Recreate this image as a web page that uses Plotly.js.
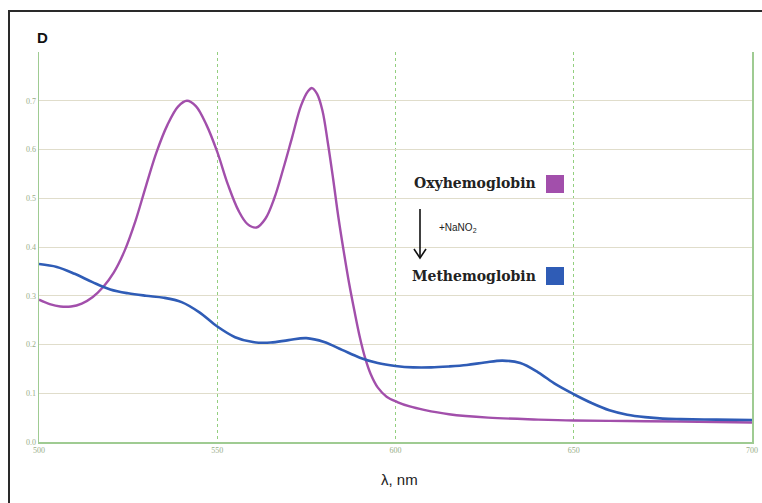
<!DOCTYPE html>
<html>
<head>
<meta charset="utf-8">
<script src="https://cdn.plot.ly/plotly-3.0.1.min.js"></script>
<style>
html,body{margin:0;padding:0;background:#fff;}
#chart{width:762px;height:503px;}
</style>
</head>
<body>
<div id="chart"></div>
<script>
// Oxyhemoglobin spectrum (wavelength nm, absorbance)
const wlOxy = [500,503,506,509,512,515,518,521,524,527,530,533,536,539,541.5,544,547,550,553,556,558.5,561,563.5,566,568.5,571,573.5,575.5,576.6,578,579.5,581,582.5,584,585.5,587,588.5,590,591.5,593,595,597.5,600.5,604,608,615,626,640,650,665,680,700];
const absOxy = [0.292,0.283,0.278,0.278,0.284,0.297,0.318,0.348,0.392,0.452,0.525,0.595,0.650,0.688,0.700,0.689,0.650,0.595,0.528,0.474,0.447,0.440,0.458,0.500,0.560,0.625,0.690,0.720,0.726,0.714,0.680,0.615,0.540,0.460,0.390,0.325,0.268,0.215,0.172,0.140,0.112,0.093,0.082,0.073,0.066,0.057,0.050,0.046,0.044,0.043,0.042,0.040];
// Methemoglobin spectrum
const wlMet = [500,505,510,515,520,525,530,535,540,545,550,555,560,565,570,575,580,585,590,595,600,605,610,615,620,625,630,635,640,645,650,655,660,665,670,675,680,690,700];
const absMet = [0.365,0.359,0.345,0.328,0.313,0.305,0.300,0.296,0.287,0.266,0.237,0.215,0.205,0.204,0.209,0.213,0.205,0.189,0.173,0.162,0.156,0.153,0.153,0.155,0.158,0.163,0.167,0.162,0.143,0.118,0.098,0.080,0.065,0.056,0.051,0.048,0.047,0.046,0.045];
// Tick labels
const xTicks = [500,550,600,650,700];
const yTicks = [0,0.1,0.2,0.3,0.4,0.5,0.6,0.7];
const yTickText = ['0.0','0.1','0.2','0.3','0.4','0.5','0.6','0.7'];
const seriesNames = ['Oxyhemoglobin','Methemoglobin'];
const seriesColors = ['#a24fab','#2f5cb6'];

const traces = [
  {x: wlOxy, y: absOxy, name: seriesNames[0], mode:'lines', line:{color:seriesColors[0], width:2.4, shape:'spline', smoothing:1}},
  {x: wlMet, y: absMet, name: seriesNames[1], mode:'lines', line:{color:seriesColors[1], width:2.6, shape:'spline', smoothing:1}}
];

// pixel -> paper helpers (plot area: l=39, t=52, w=713, h=390)
const L=39, T=52, W=713, H=390;
const px = v => (v-L)/W;
const py = v => (T+H-v)/H;

const layout = {
  width:762, height:503,
  margin:{l:L, r:762-L-W, t:T, b:503-T-H},
  paper_bgcolor:'#fff', plot_bgcolor:'#fff',
  showlegend:false,
  xaxis:{
    range:[500,700], tickvals:xTicks, ticktext:xTicks.map(String),
    showgrid:true, gridcolor:'#93cf7f', griddash:'dot', gridwidth:1,
    showline:true, linecolor:'#9fcb92', linewidth:1.5, mirror:false,
    zeroline:false, ticks:'', tickfont:{family:'Liberation Serif', size:8, color:'#98ad88'}
  },
  yaxis:{
    range:[0,0.8], tickvals:yTicks, ticktext:yTickText,
    showgrid:true, gridcolor:'#e0ddcb', gridwidth:1,
    showline:true, linecolor:'#9fcb92', linewidth:1.5, mirror:true,
    zeroline:false, ticks:'', tickfont:{family:'Liberation Serif', size:8, color:'#98ad88'}
  },
  shapes:[
    {type:'rect', xref:'paper', yref:'paper', x0:px(9), x1:px(820), y0:py(620), y1:py(11), line:{color:'#2a2a2a', width:2}, fillcolor:'rgba(0,0,0,0)'},
    {type:'rect', xref:'paper', yref:'paper', x0:px(546), x1:px(564), y0:py(193), y1:py(175), line:{width:0}, fillcolor:seriesColors[0]},
    {type:'rect', xref:'paper', yref:'paper', x0:px(546), x1:px(564), y0:py(285), y1:py(267), line:{width:0}, fillcolor:seriesColors[1]},
    {type:'line', xref:'paper', yref:'paper', x0:px(420), x1:px(420), y0:py(209), y1:py(258), line:{color:'#111', width:1.6}},
    {type:'path', xref:'paper', yref:'paper', path:`M ${px(414)} ${py(249)} L ${px(420)} ${py(258)} L ${px(426)} ${py(249)}`, line:{color:'#111', width:1.6}}
  ],
  annotations:[
    {xref:'paper', yref:'paper', x:px(35), y:py(38), xanchor:'left', yanchor:'middle', text:'<b>D</b>', showarrow:false, font:{family:'Liberation Sans', size:15, color:'#111'}},
    {xref:'paper', yref:'paper', x:px(399), y:py(479), xanchor:'center', yanchor:'middle', text:'λ, nm', showarrow:false, font:{family:'Liberation Sans', size:15, color:'#222'}},
    {xref:'paper', yref:'paper', x:px(538), y:py(183), xanchor:'right', yanchor:'middle', text:'<b>'+seriesNames[0]+'</b>', showarrow:false, font:{family:'DejaVu Serif', size:14, color:'#222'}},
    {xref:'paper', yref:'paper', x:px(538), y:py(276), xanchor:'right', yanchor:'middle', text:'<b>'+seriesNames[1]+'</b>', showarrow:false, font:{family:'DejaVu Serif', size:14, color:'#222'}},
    {xref:'paper', yref:'paper', x:px(437), y:py(228), xanchor:'left', yanchor:'middle', text:'+NaNO<sub>2</sub>', showarrow:false, font:{family:'Liberation Sans', size:10, color:'#222'}}
  ]
};

Plotly.newPlot('chart', traces, layout, {displayModeBar:false, staticPlot:true});
</script>
</body>
</html>
